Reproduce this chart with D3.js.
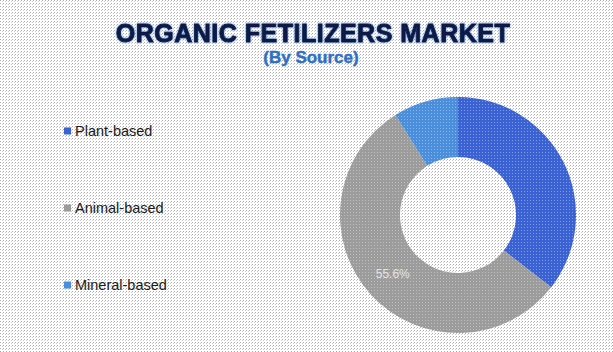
<!DOCTYPE html>
<html>
<head>
<meta charset="utf-8">
<script src="https://cdn.jsdelivr.net/npm/d3@7"></script>
<style>
  body { margin: 0; background: #fff; }
  svg { display: block; font-family: "Liberation Sans", Arial, sans-serif; }
</style>
</head>
<body>
<svg id="chart"></svg>
<script>
// Data
const categories = ["Plant-based", "Animal-based", "Mineral-based"];
const shares = [35.5, 55.6, 8.9];
const colors = ["#3b62d3", "#9c9c9c", "#4b8fdc"];
const shownLabels = ["", "55.6%", ""];

const width = 613, height = 352;
const cx = 458, cy = 215, outerR = 118, innerR = 58;

const svg = d3.select("#chart")
  .attr("width", width)
  .attr("height", height);

const defs = svg.append("defs");

// dotted paper background
const bg = defs.append("pattern")
  .attr("id", "dots")
  .attr("width", 3).attr("height", 3)
  .attr("patternUnits", "userSpaceOnUse");
bg.append("rect").attr("width", 3).attr("height", 3).attr("fill", "#ffffff");
bg.append("rect").attr("width", 1).attr("height", 1).attr("fill", "#acacac");
bg.append("rect").attr("x", 2).attr("y", 1).attr("width", 1).attr("height", 1).attr("fill", "#cccccc");

// lighter dots over the slices
const sp = defs.append("pattern")
  .attr("id", "sliceDots")
  .attr("width", 3).attr("height", 3)
  .attr("patternUnits", "userSpaceOnUse");
sp.append("rect").attr("width", 1).attr("height", 1).attr("fill", "#ffffff").attr("opacity", 0.35);

// soft blue edge for the title
const glow = defs.append("filter").attr("id", "glow")
  .attr("x", "-10%").attr("y", "-30%").attr("width", "120%").attr("height", "160%");
glow.append("feGaussianBlur").attr("in", "SourceAlpha").attr("stdDeviation", 0.8).attr("result", "b");
glow.append("feFlood").attr("flood-color", "#4a7fd0").attr("flood-opacity", 0.9).attr("result", "c");
glow.append("feComposite").attr("in", "c").attr("in2", "b").attr("operator", "in").attr("result", "s");
const merge = glow.append("feMerge");
merge.append("feMergeNode").attr("in", "s");
merge.append("feMergeNode").attr("in", "SourceGraphic");

svg.append("rect")
  .attr("width", width).attr("height", height)
  .attr("fill", "url(#dots)");

// Titles
svg.append("text")
  .attr("x", 313).attr("y", 42)
  .attr("text-anchor", "middle")
  .attr("font-size", 25)
  .attr("font-weight", "bold")
  .attr("fill", "#0c1a45")
  .attr("stroke", "#0c1a45")
  .attr("stroke-width", 0.9)
  .attr("letter-spacing", 0.5)
  .attr("filter", "url(#glow)")
  .text("ORGANIC FETILIZERS MARKET");

svg.append("text")
  .attr("x", 311).attr("y", 63)
  .attr("text-anchor", "middle")
  .attr("font-size", 17)
  .attr("font-weight", "bold")
  .attr("fill", "#2f6fc2")
  .attr("stroke", "#2f6fc2")
  .attr("stroke-width", 0.4)
  .text("(By Source)");

// Donut
const pie = d3.pie().sort(null).value(d => d);
const arc = d3.arc().innerRadius(innerR).outerRadius(outerR);
const arcs = pie(shares);

const g = svg.append("g").attr("transform", `translate(${cx},${cy})`);

g.selectAll("path.slice")
  .data(arcs)
  .enter()
  .append("path")
  .attr("class", "slice")
  .attr("d", arc)
  .attr("fill", (d, i) => colors[i]);

g.selectAll("path.dots")
  .data(arcs)
  .enter()
  .append("path")
  .attr("class", "dots")
  .attr("d", arc)
  .attr("fill", "url(#sliceDots)");

g.selectAll("text.lbl")
  .data(arcs)
  .enter()
  .append("text")
  .attr("class", "lbl")
  .attr("transform", d => `translate(${arc.centroid(d)})`)
  .attr("text-anchor", "middle")
  .attr("dy", "0.35em")
  .attr("font-size", 12)
  .attr("fill", "#e4e4e4")
  .text((d, i) => shownLabels[i]);

// Legend
const legendY = d3.scalePoint().domain(categories).range([131, 285]);

const legend = svg.selectAll("g.legend")
  .data(categories)
  .enter()
  .append("g")
  .attr("class", "legend")
  .attr("transform", d => `translate(64,${legendY(d)})`);

legend.append("rect")
  .attr("x", 0).attr("y", -3.5)
  .attr("width", 7).attr("height", 7)
  .attr("fill", (d, i) => colors[i]);

legend.append("text")
  .attr("x", 11)
  .attr("dy", "0.36em")
  .attr("font-size", 14.5)
  .attr("fill", "#1a1a1a")
  .text(d => d);
</script>
</body>
</html>
